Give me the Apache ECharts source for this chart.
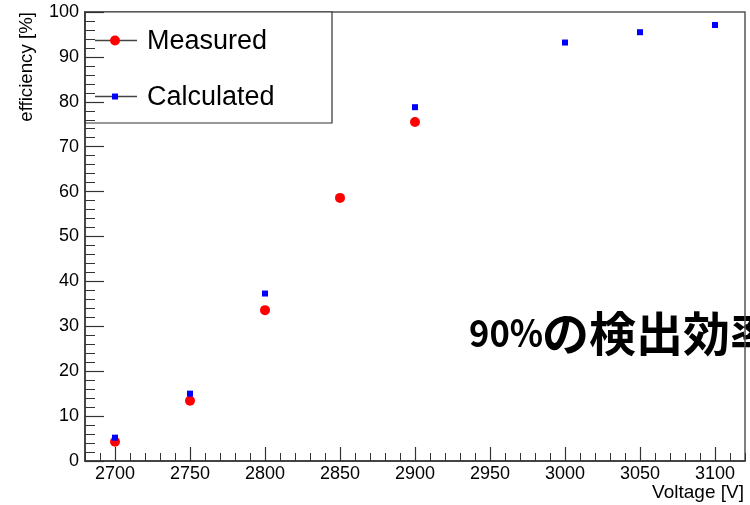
<!DOCTYPE html>
<html>
<head>
<meta charset="utf-8">
<script src="https://cdn.jsdelivr.net/npm/echarts@6/dist/echarts.min.js"></script>
<style>
  html, body { margin: 0; padding: 0; background: #fff; }
  #chart { width: 750px; height: 505px; }
</style>
</head>
<body>
<div id="chart"></div>
<script>
// Detector efficiency vs. high voltage
const voltages = [2700, 2750, 2800, 2850, 2900, 2950, 3000, 3050, 3100];
const measured = [4.3, 13.4, 33.6, 58.6, 75.5, null, null, null, null];
const calculated = [5.2, 15.0, 37.3, null, 78.8, null, 93.2, 95.5, 97.1];
const xTickLabels = [2700, 2750, 2800, 2850, 2900, 2950, 3000, 3050, 3100];
const yTickLabels = [0, 10, 20, 30, 40, 50, 60, 70, 80, 90, 100];
const seriesNames = ['Measured', 'Calculated'];
const annotationHead = '90%';
const annotationTail = 'の検出効率';

const pairs = (vals) => voltages
  .map((v, i) => [v, vals[i]])
  .filter(p => p[1] !== null);

const FONT = '"Liberation Sans", Arial, Helvetica, sans-serif';
const CJK_FONT = '"Noto Sans CJK JP", sans-serif';
const AXIS_COLOR = '#333';

const chart = echarts.init(document.getElementById('chart'), null, { renderer: 'canvas' });

chart.setOption({
  backgroundColor: '#fff',
  animation: false,
  grid: {
    left: 85, right: 5, top: 12, bottom: 44,
    show: true, borderColor: '#555', borderWidth: 1.5, backgroundColor: 'transparent'
  },
  xAxis: [
    {
      type: 'value', min: 2680, max: 3120, position: 'bottom',
      axisLine: { show: true, lineStyle: { color: AXIS_COLOR, width: 1.5 } },
      axisTick: { show: true, inside: true, length: 14, customValues: xTickLabels,
                  lineStyle: { color: AXIS_COLOR, width: 1.2 } },
      axisLabel: { show: true, customValues: xTickLabels, margin: 4, color: '#000',
                   fontFamily: FONT, fontSize: 18, formatter: (v) => String(v) },
      splitLine: { show: false }
    },
    {
      // 10 V minor ticks
      type: 'value', min: 2680, max: 3120, interval: 10, position: 'bottom',
      axisLine: { show: false },
      axisTick: { show: true, inside: true, length: 8, lineStyle: { color: AXIS_COLOR, width: 1 } },
      axisLabel: { show: false },
      splitLine: { show: false }
    }
  ],
  yAxis: {
    type: 'value', min: 0, max: 100, interval: 10,
    axisLine: { show: true, lineStyle: { color: AXIS_COLOR, width: 1.5 } },
    axisTick: { show: true, inside: true, length: 19, lineStyle: { color: AXIS_COLOR, width: 1.2 } },
    minorTick: { show: true, splitNumber: 5, length: 10, lineStyle: { color: AXIS_COLOR, width: 1 } },
    axisLabel: { show: true, margin: 6, color: '#000', fontFamily: FONT, fontSize: 18,
                 customValues: yTickLabels, formatter: (v) => String(v) },
    splitLine: { show: false }
  },
  series: [
    {
      name: seriesNames[0], type: 'scatter', xAxisIndex: 0,
      symbol: 'circle', symbolSize: 10,
      itemStyle: { color: '#ff0000', opacity: 1 },
      data: pairs(measured), z: 3
    },
    {
      name: seriesNames[1], type: 'scatter', xAxisIndex: 0,
      symbol: 'rect', symbolSize: 6,
      itemStyle: { color: '#0000ff', opacity: 1 },
      data: pairs(calculated), z: 4
    }
  ],
  graphic: [
    // annotation text (sits beneath the frame)
    {
      type: 'text', z: -10, x: 469, y: 333, scaleX: 0.91,
      style: { text: annotationHead, fill: '#000', fontSize: 38, fontWeight: 'bold',
               fontFamily: CJK_FONT, align: 'left', verticalAlign: 'middle' }
    },
    {
      type: 'text', z: -10, x: 542, y: 333,
      style: { text: annotationTail, fill: '#000', fontSize: 47, fontWeight: 'bold',
               fontFamily: CJK_FONT, align: 'left', verticalAlign: 'middle' }
    },
    // axis titles
    {
      type: 'text', x: 27, y: 12, rotation: Math.PI / 2,
      style: { text: 'efficiency [%]', fill: '#000', fontSize: 18.7, fontFamily: FONT,
               align: 'right', verticalAlign: 'middle' }
    },
    {
      type: 'text', x: 744, y: 493,
      style: { text: 'Voltage [V]', fill: '#000', fontSize: 19, fontFamily: FONT,
               align: 'right', verticalAlign: 'middle' }
    },
    // legend box
    {
      type: 'group', z: 20,
      children: [
        { type: 'rect', shape: { x: 85, y: 12, width: 247, height: 111 },
          style: { fill: '#fff', stroke: '#333', lineWidth: 1.2 } },
        { type: 'line', shape: { x1: 95, y1: 40.5, x2: 137, y2: 40.5 },
          style: { stroke: '#444', lineWidth: 1.5 } },
        { type: 'circle', shape: { cx: 115, cy: 40.5, r: 5 }, style: { fill: '#ff0000' } },
        { type: 'text', x: 147, y: 42,
          style: { text: seriesNames[0], fill: '#000', fontSize: 27, fontFamily: FONT,
                   align: 'left', verticalAlign: 'middle' } },
        { type: 'line', shape: { x1: 95, y1: 96.5, x2: 137, y2: 96.5 },
          style: { stroke: '#444', lineWidth: 1.5 } },
        { type: 'rect', shape: { x: 112, y: 93.5, width: 6, height: 6 }, style: { fill: '#0000ff' } },
        { type: 'text', x: 147, y: 98,
          style: { text: seriesNames[1], fill: '#000', fontSize: 27, fontFamily: FONT,
                   align: 'left', verticalAlign: 'middle' } }
      ]
    }
  ]
});
</script>
</body>
</html>
